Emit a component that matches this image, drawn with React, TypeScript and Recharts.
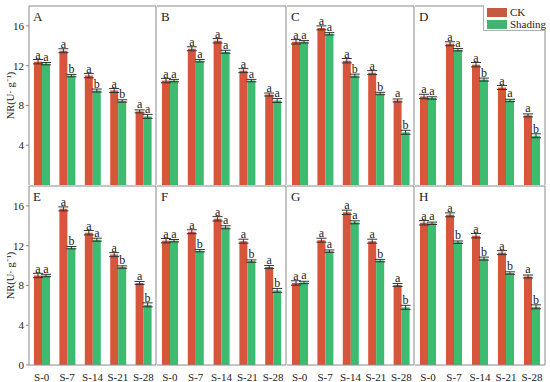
import React from "react";
import { BarChart, Bar, XAxis, YAxis, ErrorBar, LabelList } from "recharts";

// ── data ─────────────────────────────────────────────────────────────────────

const stages = ["S-0", "S-7", "S-14", "S-21", "S-28"];

const ckA = [12.4, 13.5, 11.0, 9.5, 7.4];
const shA = [12.2, 11.0, 9.5, 8.45, 6.9];
const ckB = [10.5, 13.7, 14.5, 11.5, 9.1];
const shB = [10.5, 12.5, 13.4, 10.5, 8.5];
const ckC = [14.4, 15.8, 12.5, 11.3, 8.5];
const shC = [14.4, 15.2, 11.0, 9.2, 5.3];
const ckD = [8.9, 14.2, 12.1, 9.8, 7.0];
const shD = [8.75, 13.6, 10.6, 8.5, 4.95];
const ckE = [9.0, 15.7, 13.3, 11.1, 8.25];
const shE = [9.0, 11.8, 12.6, 9.85, 6.05];
const ckF = [12.5, 13.4, 14.7, 12.45, 9.85];
const shF = [12.5, 11.5, 13.85, 10.45, 7.5];
const ckG = [8.25, 12.55, 15.35, 12.45, 8.05];
const shG = [8.3, 11.45, 14.35, 10.5, 5.8];
const ckH = [14.3, 15.1, 13.0, 11.3, 8.9];
const shH = [14.25, 12.35, 10.7, 9.25, 5.85];

const ckErr = [0.22, 0.2, 0.22, 0.2, 0.15];
const shErr = [0.12, 0.12, 0.15, 0.12, 0.2];

// significance letters: [CK, Shading]
const sigA = ["aa", "ab", "ab", "ab", "aa"];
const sigB = ["aa", "aa", "aa", "aa", "aa"];
const sigC = ["aa", "aa", "ab", "ab", "ab"];
const sigD = ["aa", "aa", "ab", "aa", "ab"];
const sigE = ["aa", "ab", "aa", "ab", "ab"];
const sigF = ["aa", "ab", "aa", "ab", "ab"];
const sigG = ["aa", "aa", "aa", "ab", "ab"];
const sigH = ["aa", "ab", "ab", "ab", "ab"];

const yTicks = [0, 4, 8, 12, 16];

// ── style ────────────────────────────────────────────────────────────────────

const CK = "#d7563b";
const SH = "#3dbb70";
const FRAME = "#8a8a8a";
const FONT = "'Liberation Serif', 'Times New Roman', serif";

const cols = [
  { left: 29, width: 128 },
  { left: 157, width: 130 },
  { left: 287, width: 128 },
  { left: 415, width: 131 },
];

interface PanelProps {
  name: string;
  ck: number[];
  sh: number[];
  sig: string[];
  col: number;
  row: number;
}

function Panel({ name, ck, sh, sig, col, row }: PanelProps) {
  const data = stages.map((s, i) => ({
    stage: s,
    ck: ck[i],
    sh: sh[i],
    ckErr: ckErr[i],
    shErr: shErr[i],
    ckSig: sig[i][0],
    shSig: sig[i][1],
  }));
  const showY = col === 0;
  const showX = row === 1;
  const yw = showY ? 29 : 0;
  const xh = showX ? 17 : 0;
  const top = row === 0 ? 5 : 185;
  const { left, width } = cols[col];
  const labelStyle = { fontSize: 12, fill: "#222", fontFamily: FONT };
  const tickStyle = { fontSize: 11, fill: "#222", fontFamily: FONT };

  return (
    <div style={{ position: "absolute", left: left - yw, top }}>
      <BarChart
        width={width + yw}
        height={180 + xh}
        data={data}
        margin={{ top: 0, right: 0, bottom: 0, left: 0 }}
        barGap={0}
        barSize={8}
      >
        <XAxis
          dataKey="stage"
          interval={0}
          height={xh}
          stroke={FRAME}
          tickLine={false}
          tick={showX ? tickStyle : false}
        />
        <XAxis xAxisId="top" orientation="top" dataKey="stage" height={1} stroke={FRAME} tick={false} tickLine={false} />
        <YAxis
          domain={[0, 18]}
          ticks={yTicks}
          width={yw}
          stroke={FRAME}
          tickSize={3}
          tickLine={showY}
          tick={showY ? tickStyle : false}
          label={
            showY
              ? { value: "NR(U· g⁻¹)", angle: -90, position: "insideLeft", offset: 10, style: { fontSize: 10.5, fill: "#222", fontFamily: FONT, textAnchor: "middle" } }
              : undefined
          }
        />
        <YAxis yAxisId="r" orientation="right" width={1} stroke={FRAME} tick={false} tickLine={false} />
        <Bar dataKey="ck" name="CK" fill={CK} isAnimationActive={false}>
          <ErrorBar dataKey="ckErr" width={5} stroke="#333" strokeWidth={1} />
          <LabelList dataKey="ckSig" position="top" offset={3} style={labelStyle} />
        </Bar>
        <Bar dataKey="sh" name="Shading" fill={SH} isAnimationActive={false}>
          <ErrorBar dataKey="shErr" width={5} stroke="#333" strokeWidth={1} />
          <LabelList dataKey="shSig" position="top" offset={3} style={labelStyle} />
        </Bar>
      </BarChart>
      <div style={{ position: "absolute", left: yw + 4, top: 5, fontSize: 13, color: "#222", lineHeight: 1 }}>
        {name}
      </div>
    </div>
  );
}

function LegendBox() {
  const items = [
    { label: "CK", color: "#c65a3e" },
    { label: "Shading", color: "#46b371" },
  ];
  return (
    <div
      style={{
        position: "absolute",
        left: 483,
        top: 5,
        width: 63,
        height: 26,
        boxSizing: "border-box",
        border: "1px solid #b0b0b0",
        borderTop: "none",
        borderRight: "none",
        padding: "2px 0 0 3px",
        fontSize: 11,
        color: "#222",
        background: "#fff",
      }}
    >
      {items.map((it) => (
        <div key={it.label} style={{ display: "flex", alignItems: "center", height: 11.5 }}>
          <div style={{ width: 20, height: 9, background: it.color, marginRight: 3 }} />
          <span style={{ lineHeight: 1 }}>{it.label}</span>
        </div>
      ))}
    </div>
  );
}

export default function App() {
  return (
    <div style={{ position: "absolute", left: 0, top: 0, width: 550, height: 382, background: "#fff", overflow: "hidden", fontFamily: FONT }}>
      <Panel name="A" ck={ckA} sh={shA} sig={sigA} col={0} row={0} />
      <Panel name="B" ck={ckB} sh={shB} sig={sigB} col={1} row={0} />
      <Panel name="C" ck={ckC} sh={shC} sig={sigC} col={2} row={0} />
      <Panel name="D" ck={ckD} sh={shD} sig={sigD} col={3} row={0} />
      <Panel name="E" ck={ckE} sh={shE} sig={sigE} col={0} row={1} />
      <Panel name="F" ck={ckF} sh={shF} sig={sigF} col={1} row={1} />
      <Panel name="G" ck={ckG} sh={shG} sig={sigG} col={2} row={1} />
      <Panel name="H" ck={ckH} sh={shH} sig={sigH} col={3} row={1} />
      <LegendBox />
    </div>
  );
}
